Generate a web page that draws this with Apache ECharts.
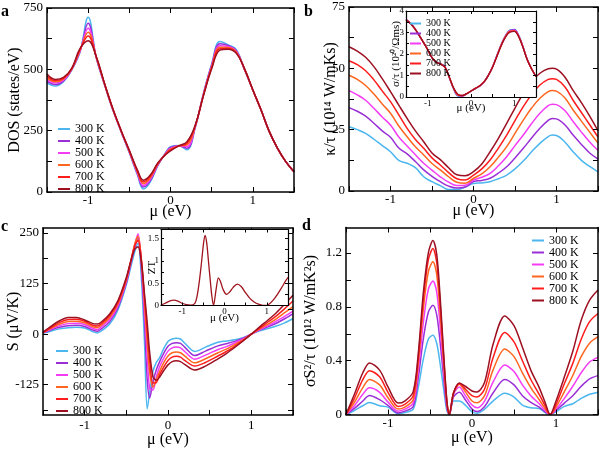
<!DOCTYPE html>
<html>
<head>
<meta charset="utf-8">
<script src="https://cdn.jsdelivr.net/npm/echarts@6/dist/echarts.min.js"></script>
<style>html,body{margin:0;padding:0;background:#fff}#c{width:600px;height:449px}</style>
</head>
<body>
<div id="c"></div>
<script>
// ---------- data ----------
const TEMPS = ['300 K','400 K','500 K','600 K','700 K','800 K'];
const COLORS = ['#4cb6ee','#9a2fd6','#f53cf5','#ff6620','#ff1c1c','#9c1022'];
const X_MAJOR = [-1, 0, 1];
const X_MINOR = [-1.5, -0.5, 0.5, 1.5];

// (a) DOS
const muA = [-1.5,-1.4,-1.3,-1.2,-1.1,-1.0,-0.9,-0.8,-0.7,-0.6,-0.5,-0.4,-0.33,-0.25,-0.15,-0.05,0,0.1,0.2,0.3,0.4,0.5,0.6,0.7,0.8,0.9,1.0,1.1,1.2,1.3,1.4,1.5];
const dos300 = [445,432,450,497,570,712,545,436,334,246,160,68,12,38,110,165,185,190,172,262,402,522,613,600,580,497,416,334,246,178,124,83];
const dos400 = [452,438,453,499,572,688,546,437,335,247,162,72,20,44,112,163,182,189,178,264,400,518,604,597,576,498,416,334,246,178,124,83];
const dos500 = [459,444,456,500,574,667,547,438,336,248,164,76,27,50,114,161,178,189,185,266,398,514,596,593,573,499,416,334,246,178,124,83];
const dos600 = [466,449,460,501,577,651,548,439,337,249,166,80,34,56,116,159,175,188,192,268,396,510,590,589,570,500,416,334,246,178,124,83];
const dos700 = [473,454,463,502,580,636,549,440,338,250,168,84,41,62,118,157,172,188,198,270,394,506,584,585,567,501,416,334,246,178,124,83];
const dos800 = [481,459,467,504,584,617,550,441,339,251,170,88,48,67,120,155,168,188,205,272,392,502,578,582,565,502,416,334,246,178,124,83];
const dosTicks = [0,250,500,750];

// (b) kappa/tau
const muB = [-1.5,-1.4,-1.3,-1.2,-1.1,-1.0,-0.9,-0.8,-0.7,-0.6,-0.5,-0.4,-0.3,-0.2,-0.1,0,0.1,0.2,0.3,0.4,0.5,0.6,0.7,0.8,0.9,0.95,1.0,1.1,1.2,1.3,1.4,1.5];
const kap300 = [26.2,25,23.5,21.1,18.5,16,12.5,11.3,9.5,5.8,3.8,2.2,0.6,0.6,1.6,3.1,3.3,3.8,5,6.5,9,12.2,16,19.4,22.2,22.8,22.6,20,16,12.5,10,7.8];
const kap400 = [34,32.5,30.5,27.6,24.5,21.9,17.5,15.1,12,8.6,6,3.8,2,1.2,1.6,3.8,4.3,5.2,7.3,9.9,13.5,17.4,21.6,25.6,28.8,29.6,29.4,27,22.8,19,15.5,13];
const kap500 = [40.9,39.2,37,33.7,30.2,26.9,22,18.3,14.8,11.3,8.5,5.8,3.6,2.2,2.3,4.5,5.6,7.2,10.3,14,18.5,22.8,27.5,31.7,34.8,35.4,35.2,32.8,28.3,24,20,16.5];
const kap600 = [47.2,45.5,43,39.5,35.5,31.7,26.5,22.1,18,14.7,11.2,8.6,5.8,3.6,3.2,5.2,7,9.9,13.8,18.1,23.5,28.9,33.8,37.8,40.5,41,40.7,38,33,28.5,24,19.5];
const kap700 = [53.1,51.5,49,45.3,40.8,36.4,31,25.5,21,17.4,13.5,10.6,7.5,5,4.5,6.5,9,12.6,17.5,22.8,28.7,34.4,39.3,43.2,45.5,45.8,45.5,42.5,37,32,27,22];
const kap800 = [58.8,57,54.5,50.7,45.8,40.5,35,29.6,24.5,20.1,15.5,12.8,9.5,6.6,6.2,7.9,11,16,21.5,27.6,33.8,39.8,44.5,48,49.8,50,49.7,46.5,41,36,30.5,24.5];
const kapTicks = [0,25,50,75];

// (b inset) sigma/tau
const muS = [-1.5,-1.4,-1.3,-1.2,-1.1,-1.0,-0.9,-0.8,-0.7,-0.6,-0.5,-0.4,-0.3,-0.2,-0.1,0,0.1,0.2,0.3,0.4,0.5,0.6,0.7,0.8,0.9,1.0,1.1,1.2,1.3,1.4,1.5];
const sig300 = [3.62,3.45,3.2,2.88,2.54,2.22,1.82,1.63,1.55,1.42,0.9,0.36,0.04,0.03,0.14,0.27,0.39,0.5,0.7,1.02,1.43,1.95,2.47,2.88,3.12,3.15,2.88,2.35,1.74,1.3,0.96];
const sig400 = [3.61,3.44,3.2,2.88,2.54,2.21,1.82,1.63,1.54,1.41,0.9,0.38,0.06,0.04,0.15,0.27,0.39,0.5,0.7,1.02,1.42,1.94,2.45,2.86,3.1,3.13,2.86,2.34,1.74,1.3,0.96];
const sig500 = [3.6,3.43,3.19,2.88,2.54,2.21,1.82,1.62,1.54,1.4,0.91,0.39,0.08,0.05,0.15,0.28,0.4,0.51,0.7,1.01,1.42,1.93,2.44,2.84,3.08,3.1,2.84,2.33,1.73,1.3,0.96];
const sig600 = [3.6,3.43,3.19,2.88,2.55,2.21,1.83,1.62,1.53,1.39,0.91,0.4,0.09,0.06,0.16,0.28,0.4,0.51,0.7,1.01,1.41,1.92,2.43,2.83,3.06,3.08,2.82,2.32,1.73,1.3,0.95];
const sig700 = [3.59,3.42,3.18,2.88,2.55,2.2,1.83,1.62,1.53,1.38,0.92,0.41,0.11,0.07,0.16,0.28,0.4,0.52,0.7,1.0,1.4,1.91,2.41,2.81,3.04,3.06,2.81,2.31,1.72,1.3,0.95];
const sig800 = [3.58,3.42,3.18,2.88,2.55,2.2,1.83,1.62,1.52,1.38,0.92,0.42,0.12,0.07,0.16,0.28,0.4,0.52,0.7,1.0,1.4,1.9,2.4,2.8,3.02,3.05,2.8,2.3,1.72,1.3,0.95];
const sigTicks = [0,1,2,3,4];

// (c) Seebeck
const muC = [-1.5,-1.4,-1.3,-1.2,-1.1,-1.0,-0.9,-0.85,-0.8,-0.7,-0.6,-0.5,-0.45,-0.4,-0.36,-0.32,-0.28,-0.25,-0.22,-0.18,-0.14,-0.1,-0.05,0,0.05,0.1,0.15,0.2,0.32,0.45,0.6,0.7,0.8,0.9,1.0,1.1,1.2,1.3,1.4,1.5];
const see300 = [2,8,13,16,17,15,6,3,8,25,60,122,163,203,225,140,-30,-185,-145,-92,-70,-58,-35,-18,-12,-10,-12,-22,-43,-32,-20,-17,-14,-9,0,8,14,20,28,38];
const see400 = [3,11,17,21,22,19,10,7,13,31,66,127,170,213,240,165,20,-110,-158,-118,-88,-68,-47,-30,-23,-21,-23,-32,-53,-42,-29,-24,-18,-10,0,10,18,27,38,50];
const see500 = [3,13,21,26,27,24,14,11,18,36,71,131,175,220,248,180,50,-50,-135,-138,-105,-80,-59,-42,-34,-32,-34,-43,-62,-52,-38,-31,-22,-12,0,11,21,32,44,57];
const see600 = [4,15,25,31,32,28,18,16,22,41,75,134,177,222,242,185,70,-20,-95,-131,-112,-92,-70,-54,-46,-44,-46,-54,-71,-61,-46,-37,-26,-14,0,13,25,38,53,68];
const see700 = [4,17,29,36,37,32,22,20,26,46,79,137,178,218,232,185,85,10,-65,-121,-120,-100,-81,-65,-57,-55,-57,-65,-79,-70,-54,-43,-30,-16,0,15,30,45,63,82];
const see800 = [5,20,33,41,41,35,26,25,30,50,83,140,178,210,216,180,95,30,-45,-105,-114,-106,-90,-76,-68,-66,-68,-75,-89,-79,-61,-48,-33,-17,0,18,35,53,74,96];
const seeTicks = [-125,0,125,250];

// (c inset) ZT
const muZ = [-1.5,-1.4,-1.3,-1.2,-1.1,-1.0,-0.9,-0.8,-0.7,-0.65,-0.6,-0.55,-0.5,-0.46,-0.42,-0.38,-0.34,-0.3,-0.26,-0.2,-0.145,-0.1,-0.03,0.05,0.12,0.2,0.3,0.4,0.5,0.6,0.7,0.8,0.9,0.97,1.05,1.15,1.25,1.35,1.45,1.5];
const zt = [0.01,0.05,0.1,0.12,0.1,0.05,0.02,0.01,0.05,0.2,0.5,0.9,1.35,1.57,1.4,1.0,0.6,0.22,0,0.35,0.62,0.55,0.35,0.25,0.3,0.4,0.48,0.42,0.28,0.16,0.08,0.03,0.005,0,0.03,0.12,0.25,0.4,0.56,0.63];
const ztTicks = [0,0.5,1,1.5];

// (d) power factor
const muD = [-1.5,-1.4,-1.3,-1.22,-1.1,-1.0,-0.88,-0.8,-0.7,-0.64,-0.58,-0.52,-0.465,-0.42,-0.38,-0.34,-0.3,-0.27,-0.22,-0.15,-0.08,0,0.06,0.15,0.25,0.39,0.5,0.6,0.7,0.8,0.87,0.93,1.0,1.1,1.2,1.3,1.4,1.5];
const pf300 = [0,0.03,0.065,0.09,0.065,0.055,0.005,0.015,0.04,0.2,0.41,0.56,0.59,0.53,0.38,0.2,0.03,0,0.1,0.1,0.07,0.02,0.01,0.04,0.1,0.158,0.13,0.07,0.05,0.045,0.015,0,0.02,0.06,0.08,0.12,0.15,0.166];
const pf400 = [0,0.045,0.1,0.141,0.11,0.067,0.012,0.025,0.06,0.27,0.56,0.76,0.812,0.74,0.54,0.29,0.05,0,0.13,0.165,0.11,0.04,0.022,0.06,0.16,0.26,0.22,0.14,0.09,0.055,0.02,0,0.03,0.085,0.14,0.21,0.265,0.289];
const pf500 = [0,0.065,0.15,0.198,0.165,0.092,0.025,0.04,0.085,0.33,0.68,0.93,0.993,0.91,0.66,0.36,0.07,0,0.15,0.205,0.14,0.07,0.05,0.1,0.24,0.368,0.32,0.22,0.14,0.08,0.03,0,0.04,0.12,0.21,0.31,0.39,0.425];
const pf600 = [0,0.09,0.2,0.26,0.22,0.125,0.04,0.055,0.11,0.38,0.78,1.06,1.136,1.04,0.76,0.41,0.09,0,0.16,0.225,0.17,0.1,0.087,0.14,0.33,0.487,0.43,0.31,0.2,0.11,0.045,0,0.055,0.17,0.29,0.43,0.53,0.578];
const pf700 = [0,0.12,0.26,0.326,0.28,0.165,0.06,0.075,0.14,0.42,0.85,1.15,1.233,1.13,0.83,0.45,0.1,0,0.16,0.23,0.19,0.14,0.13,0.19,0.42,0.61,0.54,0.4,0.26,0.15,0.065,0,0.075,0.23,0.38,0.56,0.69,0.751];
const pf800 = [0,0.15,0.31,0.383,0.33,0.205,0.085,0.1,0.17,0.45,0.9,1.2,1.294,1.19,0.88,0.48,0.11,0,0.16,0.235,0.21,0.175,0.168,0.24,0.52,0.733,0.66,0.5,0.33,0.2,0.09,0,0.1,0.28,0.47,0.7,0.85,0.926];
const pfTicks = [0,0.4,0.8,1.2];

// ---------- build ----------
const FONT = "'Liberation Serif','Times New Roman',serif";
const xAxes = [], yAxes = [], series = [];

function midTicks(t) { const m = []; for (let i = 0; i < t.length - 1; i++) m.push((t[i] + t[i+1]) / 2); return m; }

function addAxes(g, c) {
  const line = {show: true, onZero: false, lineStyle: {color: '#000', width: c.lw}};
  const tick = (vals) => ({show: true, inside: true, length: c.tl, customValues: vals, lineStyle: {color: '#000', width: 1}});
  const xt = X_MAJOR.concat(X_MINOR).sort((a, b) => a - b);
  const yt = c.yMajor.concat(midTicks(c.yMajor), c.yExtra || []).sort((a, b) => a - b);
  const lab = (vals, m) => ({customValues: vals, fontSize: c.fs, fontFamily: FONT, color: '#000', margin: m});
  const nm = {fontSize: c.nfs, fontFamily: FONT, color: '#000'};
  const xi = xAxes.length, yi = yAxes.length;
  xAxes.push({gridIndex: g, type: 'value', min: -1.5, max: 1.5, position: 'bottom', z: c.z,
    axisLine: line, axisTick: tick(xt), splitLine: {show: false}, axisLabel: lab(X_MAJOR, c.xm),
    name: 'μ (eV)', nameLocation: 'middle', nameGap: c.xng, nameMoveOverlap: false, nameTextStyle: nm});
  xAxes.push({gridIndex: g, type: 'value', min: -1.5, max: 1.5, position: 'top', z: c.z,
    axisLine: line, axisTick: tick(xt), splitLine: {show: false}, axisLabel: {show: false}});
  yAxes.push({gridIndex: g, type: 'value', min: c.ymin, max: c.ymax, position: 'left', z: c.z,
    axisLine: line, axisTick: tick(yt), splitLine: {show: false}, axisLabel: lab(c.yMajor, c.ym),
    name: c.yName, nameLocation: 'middle', nameRotate: 90, nameGap: c.yng, nameMoveOverlap: false, nameTextStyle: nm});
  yAxes.push({gridIndex: g, type: 'value', min: c.ymin, max: c.ymax, position: 'right', z: c.z,
    axisLine: line, axisTick: tick(yt), splitLine: {show: false}, axisLabel: {show: false}});
  return {xi, yi};
}

function addLines(ax, mu, arrs, z, w, smooth) {
  arrs.forEach((vals, k) => {
    series.push({type: 'line', name: TEMPS[k], xAxisIndex: ax.xi, yAxisIndex: ax.yi,
      data: mu.map((m, i) => [m, vals[i]]), showSymbol: false, symbol: 'none', smooth: smooth,
      color: COLORS[k], lineStyle: {width: w, color: COLORS[k]}, z: z, animation: false});
  });
}

const grids = [
  {left: 47, top: 8, width: 247, height: 184},
  {left: 349, top: 7, width: 249, height: 184},
  {left: 43, top: 228, width: 250, height: 187},
  {left: 346, top: 227.5, width: 252, height: 187},
  {left: 406, top: 11, width: 130, height: 86, show: true, backgroundColor: '#fff', borderWidth: 0, z: 10},
  {left: 161, top: 229.5, width: 127, height: 76, show: true, backgroundColor: '#fff', borderWidth: 0, z: 10}
];

const axA = addAxes(0, {ymin: 0, ymax: 750, yMajor: dosTicks, fs: 13, nfs: 16, lw: 1.5, tl: 5, z: 3,
  xm: 2, xng: 12, ym: 4, yng: 24, yName: 'DOS (states/eV)'});
const axB = addAxes(1, {ymin: 0, ymax: 75, yMajor: kapTicks, fs: 13, nfs: 16, lw: 1.5, tl: 5, z: 3,
  xm: 2, xng: 12, ym: 4, yng: 10, yName: 'κ/τ (10¹⁴ W/mKs)'});
const axC = addAxes(2, {ymin: -200, ymax: 262.5, yMajor: seeTicks, yExtra: [-187.5], fs: 13, nfs: 16, lw: 1.5, tl: 5, z: 3,
  xm: 4, xng: 17, ym: 4, yng: 21, yName: 'S (μV/K)'});
const axD = addAxes(3, {ymin: 0, ymax: 1.39, yMajor: pfTicks, fs: 13, nfs: 16, lw: 1.5, tl: 5, z: 3,
  xm: 3, xng: 15, ym: 4, yng: 27, yName: 'σS²/τ (10¹² W/mK²s)'});
const axBi = addAxes(4, {ymin: 0, ymax: 4, yMajor: sigTicks, fs: 9, nfs: 11, lw: 1.2, tl: 3, z: 12,
  xm: 2, xng: 6, ym: 2, yng: 4, yName: 'σ/τ (10²⁰/Ωms)'});
const axCi = addAxes(5, {ymin: 0, ymax: 1.7, yMajor: ztTicks, fs: 9, nfs: 11, lw: 1.2, tl: 3, z: 12,
  xm: 2, xng: 7, ym: 2, yng: 3, yName: 'ZT'});

addLines(axA, muA, [dos300, dos400, dos500, dos600, dos700, dos800], 2, 1.5, 0.4);
addLines(axB, muB, [kap300, kap400, kap500, kap600, kap700, kap800], 2, 1.5, 0.4);
addLines(axC, muC, [see300, see400, see500, see600, see700, see800], 2, 1.5, 0.3);
addLines(axD, muD, [pf300, pf400, pf500, pf600, pf700, pf800], 2, 1.5, 0.3);
addLines(axBi, muS, [sig300, sig400, sig500, sig600, sig700, sig800], 11, 1.3, 0.4);
series.push({type: 'line', name: 'ZT', xAxisIndex: axCi.xi, yAxisIndex: axCi.yi,
  data: muZ.map((m, i) => [m, zt[i]]), showSymbol: false, symbol: 'none', smooth: 0.3,
  color: '#a0141e', lineStyle: {width: 1.3, color: '#a0141e'}, z: 11, animation: false});

function legendAt(left, top, fs, lh, iw) {
  return {data: TEMPS, orient: 'vertical', left: left, top: top, itemWidth: iw, itemHeight: 2,
    icon: 'rect', itemGap: 0, padding: 0, selectedMode: false, z: 20,
    itemStyle: {borderWidth: 0, borderColor: 'transparent'},
    textStyle: {fontSize: fs, lineHeight: lh, fontFamily: FONT, color: '#000'}};
}

const lbl = (t, l, tp) => ({text: t, left: l, top: tp, padding: 0,
  textStyle: {fontSize: 16, fontWeight: 'bold', fontFamily: FONT, color: '#000'}});

const chart = echarts.init(document.getElementById('c'), null, {renderer: 'canvas'});
chart.setOption({
  backgroundColor: '#fff',
  animation: false,
  title: [lbl('a', 1, 4), lbl('b', 304, 4), lbl('c', 1, 219), lbl('d', 302, 218)],
  grid: grids,
  xAxis: xAxes,
  yAxis: yAxes,
  legend: [legendAt(58, 123, 12, 9.8, 12), legendAt(56, 345, 12, 10, 12),
           legendAt(532, 234.5, 12, 9.2, 12), legendAt(410, 18.5, 10, 8.3, 11)],
  series: series
});
</script>
</body>
</html>
